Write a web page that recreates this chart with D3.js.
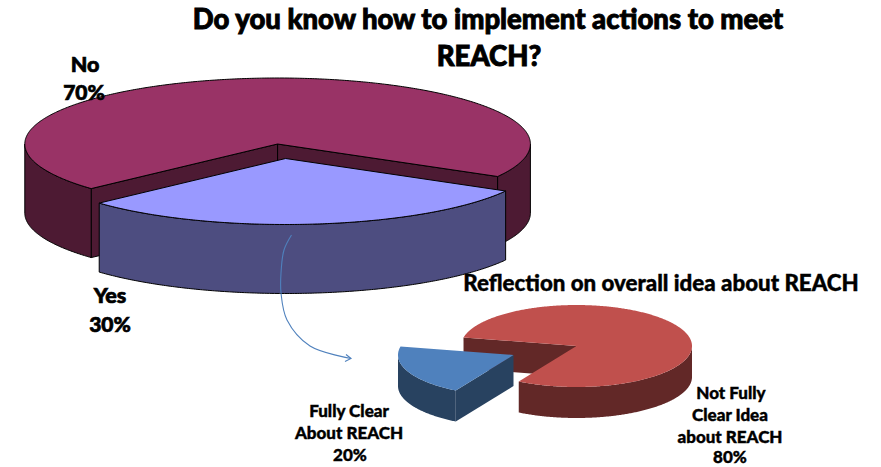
<!DOCTYPE html>
<html>
<head>
<meta charset="utf-8">
<script src="https://cdn.jsdelivr.net/npm/d3@7"></script>
<style>
  html, body { margin: 0; padding: 0; background: #fff; }
  text { font-family: Lato, "Open Sans", sans-serif; font-weight: 900; fill: #000; stroke: #000; text-anchor: middle; }
</style>
</head>
<body>
<div id="chart-container"></div>
<script>
const mainCategories = ["No", "Yes"];
const mainValues = [70, 30];
const mainTops = ["#993366", "#9999FF"];
const mainWalls = ["#4D1A33", "#4D4D80"];

const detailCategories = ["Not Fully Clear Idea about REACH", "Fully Clear About REACH"];
const detailValues = [80, 20];
const detailTops = ["#C0504D", "#4F81BD"];
const detailWalls = ["#622827", "#284260"];

const arrowPoints = [[291.5, 235], [284, 250], [281, 273], [281, 293], [287, 320], [310, 346], [351, 358.5]];

const svgWidth = 881;
const svgHeight = 467;
const rad = Math.PI / 180;

const svg = d3.select("#chart-container")
    .append("svg")
    .attr("width", svgWidth)
    .attr("height", svgHeight)
    .style("display", "block");

const pathLine = d3.line();

// one 3D pie: tilted ellipse, side walls pushed down by depth, slices moved by their offset
function drawPie(values, tops, walls, opt) {
    const slices = d3.pie()
        .sort(null)
        .startAngle(opt.start * rad)
        .endAngle((opt.start + 360) * rad)(values);

    const g = svg.append("g");

    slices.forEach(function(s, i) {
        const off = opt.offsets[i];
        const cx = opt.cx + off[0];
        const cy = opt.cy + off[1];
        const rim = a => [cx + opt.rx * Math.sin(a), cy - opt.ry * Math.cos(a)];
        const samples = (a0, a1) => d3.range(a0, a1, 0.01).concat([a1]).map(rim);
        const down = p => [p[0], p[1] + opt.depth];

        const addWall = pts => g.append("path")
            .attr("d", pathLine(pts) + "Z")
            .attr("fill", walls[i])
            .attr("stroke", opt.stroke)
            .attr("stroke-width", 1)
            .attr("stroke-linejoin", "round");

        // cut faces that look towards the viewer
        if (Math.sin(s.startAngle) < 0) {
            const p = rim(s.startAngle);
            addWall([[cx, cy], p, down(p), [cx, cy + opt.depth]]);
        }
        if (Math.sin(s.endAngle) > 0) {
            const p = rim(s.endAngle);
            addWall([[cx, cy], p, down(p), [cx, cy + opt.depth]]);
        }

        // outer wall, only where the rim faces front (90 to 270 degrees)
        d3.range(-1, 3).forEach(function(k) {
            const lo = Math.max(s.startAngle, (90 + 360 * k) * rad);
            const hi = Math.min(s.endAngle, (270 + 360 * k) * rad);
            if (hi > lo) {
                const edge = samples(lo, hi);
                addWall(edge.concat(edge.map(down).reverse()));
            }
        });

        g.append("path")
            .attr("d", pathLine([[cx, cy]].concat(samples(s.startAngle, s.endAngle))) + "Z")
            .attr("fill", tops[i])
            .attr("stroke", opt.stroke)
            .attr("stroke-width", 1)
            .attr("stroke-linejoin", "round");
    });
}

drawPie(mainValues, mainTops, mainWalls, {
    cx: 277.6, cy: 144, rx: 252.8, ry: 66, depth: 69, start: 227.5,
    offsets: [[0, 0], [8, 14.5]], stroke: "#000"
});

drawPie(detailValues, detailTops, detailWalls, {
    cx: 576.5, cy: 346, rx: 115.5, ry: 41, depth: 31, start: 282,
    offsets: [[0, 0], [-63, 9]], stroke: "none"
});

// connector between the Yes slice and the second pie
svg.append("path")
    .attr("d", d3.line().curve(d3.curveCatmullRom)(arrowPoints))
    .attr("fill", "none")
    .attr("stroke", "#4F81BD")
    .attr("stroke-width", 1.1);

const tip = arrowPoints[arrowPoints.length - 1];
svg.append("path")
    .attr("d", pathLine([[tip[0] - 5, tip[1] - 4], tip, [tip[0] - 6, tip[1] + 3]]))
    .attr("fill", "none")
    .attr("stroke", "#4F81BD")
    .attr("stroke-width", 1.1);

const labels = [
    { t: "Do you know how to implement actions to meet", x: 488, y: 29, s: 27.5, w: 0.9 },
    { t: "REACH?", x: 489, y: 66, s: 27.5, w: 0.9 },
    { t: mainCategories[0], x: 85, y: 72, s: 21.5, w: 0.7 },
    { t: mainValues[0] + "%", x: 84, y: 100, s: 21, w: 0.7 },
    { t: mainCategories[1], x: 110, y: 303, s: 21.5, w: 0.7 },
    { t: mainValues[1] + "%", x: 110, y: 332, s: 21, w: 0.7 },
    { t: "Reflection on overall idea about REACH", x: 661, y: 291, s: 22.3, w: 0.4 },
    { t: "Fully Clear", x: 349, y: 417, s: 17, w: 0.4 },
    { t: "About REACH", x: 349, y: 439, s: 17, w: 0.4 },
    { t: detailValues[1] + "%", x: 350, y: 461, s: 17, w: 0.4 },
    { t: "Not Fully", x: 731, y: 399, s: 17, w: 0.4 },
    { t: "Clear Idea", x: 730, y: 421, s: 17, w: 0.4 },
    { t: "about REACH", x: 730, y: 443, s: 17, w: 0.4 },
    { t: detailValues[0] + "%", x: 730, y: 463, s: 17, w: 0.4 }
];

svg.append("g").selectAll("text")
    .data(labels)
    .join("text")
    .attr("x", d => d.x)
    .attr("y", d => d.y)
    .attr("font-size", d => d.s + "px")
    .attr("stroke-width", d => d.w)
    .text(d => d.t);
</script>
</body>
</html>
